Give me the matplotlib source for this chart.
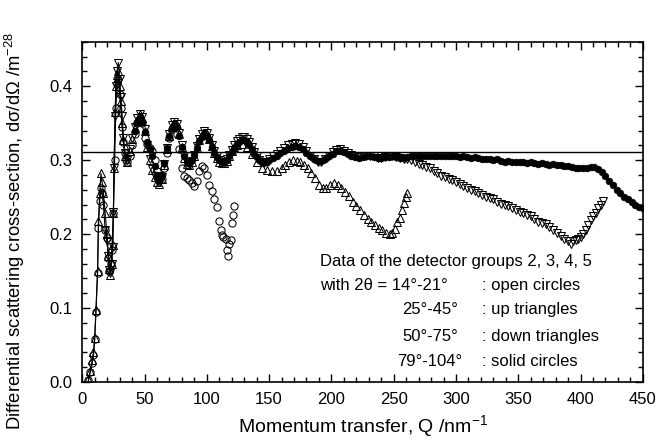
import matplotlib
matplotlib.use("Agg")
import matplotlib.pyplot as plt

plt.rcParams['font.family'] = ['Liberation Sans', 'DejaVu Sans']
plt.rcParams['mathtext.fontset'] = 'custom'
plt.rcParams['mathtext.rm'] = 'Liberation Sans'

# detector group 2 (14-21 deg), open circles
q_open = [5, 6.4, 8, 9, 10, 11, 12.3, 13, 14, 15, 16, 17, 18.4, 19.8, 21, 21.7, 23, 23.7,
          25, 26, 27, 28, 29, 30, 31, 32, 33, 34, 35,
          36, 38, 40, 42, 44, 46, 48, 50, 52, 54, 56, 58, 60, 62, 64, 66, 68, 70, 72, 74,
          76, 78, 80, 82, 84, 86, 88, 90, 92, 94, 96, 98, 100, 102, 104, 106, 108, 110,
          111, 112, 113, 115, 116, 117, 118, 119, 120, 121, 122]
s_open = [0.002, 0.013, 0.025, 0.037, 0.058, 0.095, 0.148, 0.208, 0.245, 0.262, 0.255, 0.240,
          0.205, 0.195, 0.168, 0.150, 0.160, 0.178,
          0.228, 0.300, 0.370, 0.405, 0.410, 0.390, 0.370, 0.345, 0.325, 0.310, 0.300,
          0.298, 0.305, 0.320, 0.335, 0.350, 0.355, 0.350, 0.330, 0.322, 0.317, 0.312, 0.300,
          0.285, 0.273, 0.275, 0.290, 0.310, 0.330, 0.342, 0.345, 0.335, 0.315, 0.290, 0.279,
          0.276, 0.273, 0.269, 0.265, 0.272, 0.285, 0.292, 0.290, 0.280, 0.266, 0.258, 0.248,
          0.236, 0.218, 0.205, 0.199, 0.196, 0.194, 0.178, 0.171, 0.187, 0.192, 0.215, 0.226,
          0.238]

# detector group 3 (25-45 deg), up triangles
q_up = [5, 6.4, 8, 9, 10, 11, 12.3, 13, 14, 15, 16, 17, 18.4, 19.8, 21, 21.7, 22.5, 23.5,
        24.5, 25, 25.5, 26.4, 27, 27.8, 28.8, 30, 31, 32, 33, 34.4, 35.8,
        38, 40, 42, 44, 46, 48, 50, 52, 54, 56, 58, 60, 62, 64, 66, 68, 70, 72, 74, 76, 78,
        80, 82, 84, 86, 88, 90, 92, 94, 96, 98, 100, 102, 104, 106, 108, 110, 112, 114, 116,
        118, 120, 122, 124, 128, 132, 136, 140, 144, 148, 152, 156, 160, 163, 166, 169, 172,
        175, 178, 181, 184, 187, 190, 193, 196, 199, 202, 205, 208, 211, 214, 217, 220, 223,
        226, 229, 232, 235, 238, 241, 244, 247, 249, 251, 253, 255, 256.5, 258, 259.5, 261]
s_up = [0.004, 0.015, 0.030, 0.040, 0.060, 0.097, 0.150, 0.218, 0.255, 0.282, 0.270, 0.255,
        0.228, 0.200, 0.170, 0.153, 0.145, 0.160, 0.185, 0.228, 0.290, 0.365, 0.400, 0.415,
        0.420, 0.400, 0.380, 0.350, 0.327, 0.305, 0.297,
        0.312, 0.328, 0.343, 0.355, 0.362, 0.357, 0.340, 0.318, 0.300, 0.287, 0.277, 0.271,
        0.268, 0.275, 0.293, 0.315, 0.333, 0.345, 0.350, 0.347, 0.335, 0.318, 0.303, 0.295,
        0.293, 0.297, 0.305, 0.317, 0.327, 0.334, 0.337, 0.335, 0.328, 0.319, 0.310, 0.303,
        0.298, 0.296, 0.296, 0.299, 0.305, 0.312, 0.318, 0.320, 0.322, 0.318, 0.308, 0.298,
        0.290, 0.287, 0.285, 0.286, 0.290, 0.294, 0.297, 0.300, 0.299, 0.297, 0.293, 0.289,
        0.283, 0.276, 0.267, 0.262, 0.262, 0.267, 0.269, 0.266, 0.262, 0.257, 0.251, 0.244,
        0.238, 0.232, 0.226, 0.221, 0.216, 0.212, 0.208, 0.205, 0.202, 0.200, 0.201, 0.207,
        0.216, 0.222, 0.232, 0.242, 0.250, 0.256]

# detector group 4 (50-75 deg), down triangles
q_down = [18.4, 19.8, 21, 21.7, 22.5, 23.5, 24.5, 25, 25.5, 26.4, 27, 28, 29, 30, 31, 32, 33,
          34.4, 35.8,
          38, 40, 42, 44, 46, 48, 50, 52, 54, 56, 58, 60, 62, 64, 66, 68, 70, 72, 74, 76, 78,
          80, 82, 84, 86, 88, 90, 92, 94, 96, 98, 100, 102, 104, 106, 108, 110, 112, 114, 116,
          118, 120, 122, 124, 126, 128, 130, 132, 134, 136, 138, 140, 142, 144, 146, 148, 150,
          153, 156, 159, 162, 165, 168, 171, 174, 177, 180, 183, 186, 189, 192, 195, 198, 201,
          204, 207, 210, 213, 216, 219, 222, 225, 228, 231, 234, 237, 240, 243, 246, 249, 252,
          255, 258, 261, 264, 267, 270, 273, 276, 279, 282, 285, 288, 291, 294, 297, 300, 303,
          306, 309, 312, 315, 318, 321, 324, 327, 330, 333, 336, 339, 342, 345, 348, 351, 354,
          357, 360, 363, 366, 369, 372, 375, 378, 381, 384, 387, 390, 392, 394, 396, 398, 400,
          402, 404, 406, 408, 410, 412, 414, 416, 418]
s_down = [0.205, 0.190, 0.170, 0.152, 0.148, 0.160, 0.182, 0.230, 0.290, 0.360, 0.400, 0.420,
          0.432, 0.410, 0.385, 0.360, 0.330, 0.310, 0.300,
          0.315, 0.330, 0.345, 0.357, 0.363, 0.358, 0.342, 0.320, 0.302, 0.288, 0.278, 0.272,
          0.270, 0.277, 0.295, 0.317, 0.335, 0.347, 0.352, 0.349, 0.337, 0.320, 0.305, 0.297,
          0.295, 0.299, 0.307, 0.319, 0.329, 0.336, 0.339, 0.337, 0.330, 0.321, 0.312, 0.305,
          0.300, 0.298, 0.298, 0.301, 0.307, 0.314, 0.320, 0.326, 0.329, 0.331, 0.331, 0.329,
          0.324, 0.318, 0.311, 0.305, 0.300, 0.297, 0.296, 0.298, 0.301, 0.305, 0.309, 0.313,
          0.317, 0.320, 0.322, 0.323, 0.322, 0.318, 0.312, 0.306, 0.301, 0.298, 0.298, 0.301,
          0.306, 0.311, 0.314, 0.315, 0.313, 0.310, 0.307, 0.305, 0.304, 0.305, 0.306, 0.306,
          0.305, 0.303, 0.303, 0.304, 0.305, 0.305, 0.304, 0.303, 0.302, 0.302, 0.300, 0.297,
          0.295, 0.293, 0.291, 0.289, 0.285, 0.282, 0.279, 0.277, 0.275, 0.273, 0.270, 0.268,
          0.265, 0.262, 0.259, 0.258, 0.256, 0.253, 0.250, 0.249, 0.247, 0.244, 0.241, 0.239,
          0.238, 0.235, 0.233, 0.230, 0.228, 0.226, 0.224, 0.220, 0.217, 0.215, 0.213, 0.209,
          0.205, 0.202, 0.198, 0.194, 0.190, 0.187, 0.190, 0.192, 0.194, 0.196, 0.200, 0.206,
          0.212, 0.219, 0.224, 0.229, 0.235, 0.240, 0.245]

# detector group 5 (79-104 deg), solid circles
q_solid = [42, 44, 46, 48, 50, 52, 54, 56, 58, 60, 62, 64, 66, 68, 70, 72, 74, 76, 78, 80, 82,
           84, 86, 88, 90, 92, 94, 96, 98, 100, 102, 104, 106, 108, 110, 112, 114, 116, 118,
           120, 122, 124, 126, 128, 130, 132, 134, 136, 138, 140, 142, 144, 146, 148, 150,
           153, 156, 159, 162, 165, 168, 171, 174, 177, 180, 183, 186, 189, 192, 195, 198,
           201, 204, 207, 210, 213, 216, 219, 222, 225, 228, 231, 234, 237, 240, 243, 246,
           249, 252, 255, 258, 261, 264, 267, 270, 273, 276, 279, 282, 285, 288, 291, 294,
           297, 300, 303, 306, 309, 312, 315, 318, 321, 324, 327, 330, 333, 336, 339, 342,
           345, 348, 351, 354, 357, 360, 363, 366, 369, 372, 375, 378, 381, 384, 387, 390,
           393, 396, 399, 402, 405, 408, 411, 414, 417, 420, 423, 426, 429, 432, 435, 438,
           441, 444, 447, 450]
s_solid = [0.340, 0.352, 0.357, 0.352, 0.338, 0.325, 0.315, 0.305, 0.292, 0.280, 0.275, 0.280,
           0.296, 0.316, 0.333, 0.344, 0.348, 0.345, 0.333, 0.318, 0.305, 0.298, 0.296, 0.300,
           0.307, 0.317, 0.326, 0.332, 0.335, 0.333, 0.327, 0.318, 0.310, 0.304, 0.300, 0.298,
           0.298, 0.300, 0.305, 0.311, 0.317, 0.322, 0.325, 0.327, 0.327, 0.325, 0.321, 0.315,
           0.309, 0.304, 0.300, 0.298, 0.297, 0.298, 0.300, 0.303, 0.306, 0.310, 0.313, 0.316,
           0.318, 0.319, 0.318, 0.315, 0.310, 0.305, 0.301, 0.299, 0.299, 0.301, 0.305, 0.309,
           0.312, 0.313, 0.311, 0.308, 0.306, 0.304, 0.303, 0.304, 0.305, 0.305, 0.304, 0.303,
           0.303, 0.304, 0.304, 0.305, 0.304, 0.303, 0.303, 0.304, 0.305, 0.305, 0.306, 0.305,
           0.305, 0.306, 0.306, 0.305, 0.306, 0.306, 0.305, 0.306, 0.305, 0.304, 0.305, 0.304,
           0.303, 0.304, 0.303, 0.302, 0.302, 0.301, 0.300, 0.301, 0.299, 0.298, 0.299, 0.298,
           0.297, 0.298, 0.297, 0.296, 0.297, 0.296, 0.295, 0.296, 0.295, 0.294, 0.295, 0.293,
           0.294, 0.292, 0.292, 0.291, 0.290, 0.290, 0.289, 0.290, 0.291, 0.291, 0.288, 0.284,
           0.279, 0.272, 0.266, 0.260, 0.255, 0.250, 0.247, 0.243, 0.240, 0.237, 0.235]

ref_level = 0.311
line_until = 36  # low-Q points are joined by a line

legend_angles = ["with 2\u03b8 = 14\u00b0-21\u00b0", "25\u00b0-45\u00b0", "50\u00b0-75\u00b0", "79\u00b0-104\u00b0"]
legend_marks = [": open circles", ": up triangles", ": down triangles", ": solid circles"]

fig = plt.figure(figsize=(6.58, 4.41), dpi=100)
ax = fig.add_axes([0.125, 0.134, 0.852, 0.771])

def low_part(q, s):
    pairs = [(a, b) for a, b in zip(q, s) if a <= line_until]
    return [p[0] for p in pairs], [p[1] for p in pairs]

for q, s in [(q_open, s_open), (q_up, s_up), (q_down, s_down)]:
    lq, ls = low_part(q, s)
    ax.plot(lq, ls, color='black', lw=0.8, zorder=1)

ax.axhline(ref_level, color='black', lw=1.0, zorder=1)

ax.plot(q_open, s_open, 'o', ms=5.2, mfc='none', mec='black', mew=0.75, zorder=2)
ax.plot(q_up, s_up, '^', ms=6.0, mfc='none', mec='black', mew=0.75, zorder=3)
ax.plot(q_down, s_down, 'v', ms=6.0, mfc='none', mec='black', mew=0.75, zorder=3)
ax.plot(q_solid, s_solid, 'o', ms=4.8, mfc='black', mec='black', mew=0.5, zorder=4)

ax.set_xlim(0, 450)
ax.set_ylim(0, 0.46)
ax.set_xticks(range(0, 451, 50))
ax.set_xticks(range(0, 451, 10), minor=True)
ax.set_yticks([0.0, 0.1, 0.2, 0.3, 0.4])
ax.set_yticks([i * 0.02 for i in range(24)], minor=True)
ax.set_yticklabels(["0.0", "0.1", "0.2", "0.3", "0.4"])
ax.tick_params(which='both', direction='in', top=True, right=True, labelsize=12, width=1.0)
ax.tick_params(which='major', length=6, pad=7)
ax.tick_params(which='minor', length=3.5)
for sp in ax.spines.values():
    sp.set_linewidth(1.2)

ax.set_xlabel("Momentum transfer, Q /nm$^{-1}$", fontsize=14, labelpad=5)
ax.set_ylabel("Differential scattering cross-section, d\u03c3/d\u03a9 /m$^{-28}$", fontsize=13.3)
ax.yaxis.set_label_coords(-0.098, 0.445)

ax.text(191, 0.1635, "Data of the detector groups 2, 3, 4, 5", fontsize=12, va='center')
ys = [0.131, 0.0973, 0.0608, 0.027]
xs = [191, 257, 257, 253]
for x, y, ang, mk in zip(xs, ys, legend_angles, legend_marks):
    ax.text(x, y, ang, fontsize=12, va='center', ha='left')
    ax.text(321, y, mk, fontsize=12, va='center', ha='left')

fig.savefig("out.png", dpi=100)
